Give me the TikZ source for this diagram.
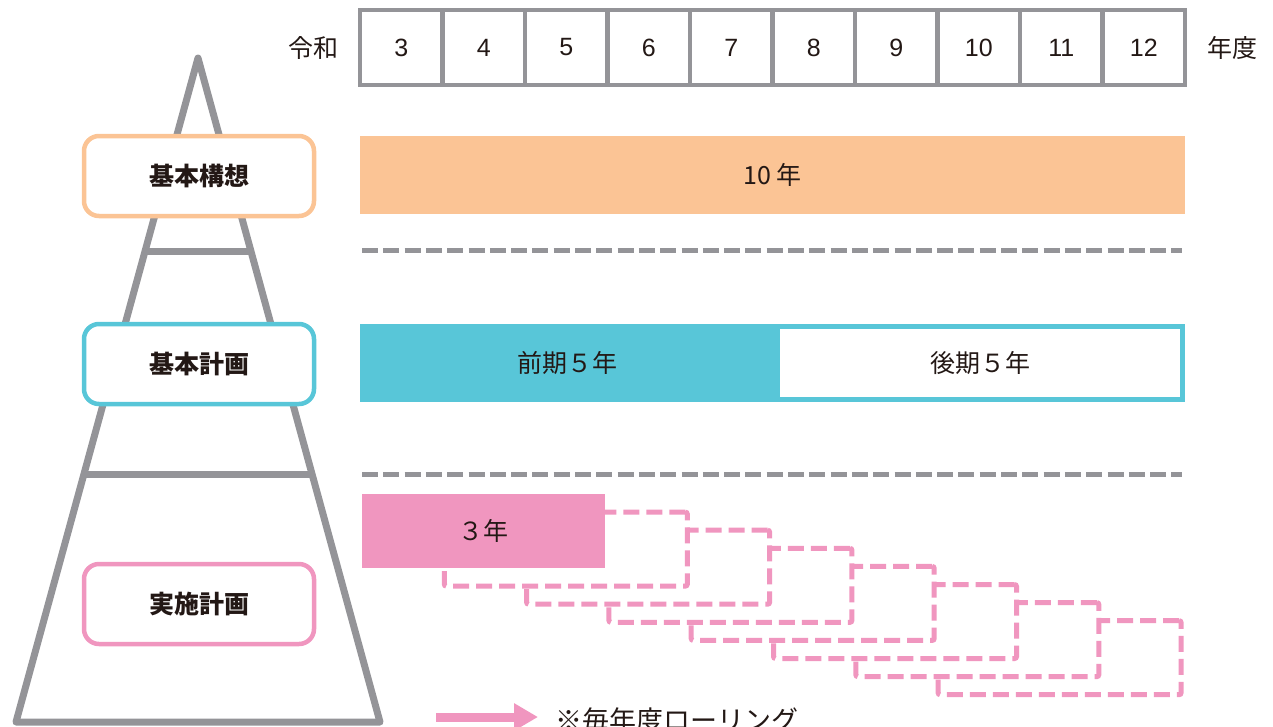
\documentclass[tikz,border=0pt]{standalone}
\usepackage{fontspec}
\setmainfont{Liberation Sans}
\newfontfamily\jp{Noto Sans CJK JP}
\usetikzlibrary{arrows.meta,calc}
\definecolor{frameg}{HTML}{949498}
\definecolor{orng}{HTML}{FBC495}
\definecolor{cyn}{HTML}{58C6D8}
\definecolor{pnk}{HTML}{F096BF}
\definecolor{ink}{HTML}{231815}
\tikzset{
  txt/.style={text=ink, font=\jp\fontsize{25}{28}\selectfont, inner sep=0pt},
  cell/.style={draw=frameg, line width=4.5pt, minimum width=82.5pt, minimum height=75pt, inner sep=0pt, text=ink, font=\fontsize{25}{28}\selectfont},
  lvl/.style={draw=#1, fill=white, line width=4.5pt, rounded corners=15pt, minimum width=230pt, minimum height=80pt, inner sep=0pt, text=ink, font=\jp\bfseries\fontsize{25}{28}\selectfont},
  bar/.style={fill=#1, draw=none, minimum height=78pt, inner sep=0pt, text=ink, font=\jp\fontsize{25}{28}\selectfont},
  roll/.style={draw=pnk, fill=white, line width=5pt, dash pattern=on 16pt off 7pt, rounded corners=2pt, minimum width=243pt, minimum height=74pt, inner sep=0pt},
  sep/.style={draw=frameg, line width=5pt, dash pattern=on 16pt off 5.3pt},
}
\begin{document}
\begin{tikzpicture}[x=1pt,y=-1pt]
\useasboundingbox (0,0) rectangle (1273,726);
% pyramid
\coordinate (apex) at (198,58);
\coordinate (bl) at (16,722);
\coordinate (br) at (380,722);
\draw[frameg, line width=7pt, line join=round] (apex) -- (bl) -- (br) -- cycle;
\draw[frameg, line width=7pt] ($(apex)!0.292!(bl)$) -- ($(apex)!0.292!(br)$);
\draw[frameg, line width=7pt] ($(apex)!0.6265!(bl)$) -- ($(apex)!0.6265!(br)$);
% level labels
\node[lvl=orng] (kihonkoso) at (199,176) {基本構想};
\node[lvl=cyn] (kihonkeikaku) at (199,364) {基本計画};
\node[lvl=pnk] (jisshi) at (199,604) {実施計画};
% year table
\foreach \n [count=\i from 0] in {3,4,5,6,7,8,9,10,11,12}
  \node[cell] (y\n) at ({360+82.5*(\i+0.5)},47.5) {\n};
\node[txt] (reiwa) at (313,48) {令和};
\node[txt] (nendo) at (1232,48) {年度};
% bars
\node[bar=orng, minimum width=825pt] (ten) at (772.5,175) {10 年};
\node[bar=cyn, minimum width=415pt] (zenki) at (567.5,363) {前期５年};
\node[draw=cyn, fill=white, line width=5pt, minimum width=405pt, minimum height=73pt, inner sep=0pt, text=ink, font=\jp\fontsize{25}{28}\selectfont] (koki) at (980,363) {後期５年};
% separators
\coordinate (s1a) at (362,250); \coordinate (s1b) at (1182,250);
\coordinate (s2a) at (362,474); \coordinate (s2b) at (1182,474);
\draw[sep] (s1a) -- (s1b);
\draw[sep] (s2a) -- (s2b);
% rolling plans
\foreach \i in {7,6,...,1}
  \node[roll] (r\i) at ({483.5+82.3*\i},{531+18.1*\i}) {};
\node[bar=pnk, minimum width=243pt, minimum height=74pt] (san) at (483.5,531) {３年};
% legend
\coordinate (la) at (436,717);
\coordinate (lb) at (538,717);
\draw[pnk, line width=9pt, -{Triangle[length=24pt,width=26pt]}] (la) -- (lb);
\node[txt, anchor=west, font=\jp\fontsize{27}{30}\selectfont] (legend) at (555,720) {※毎年度ローリング};
\end{tikzpicture}
\end{document}
